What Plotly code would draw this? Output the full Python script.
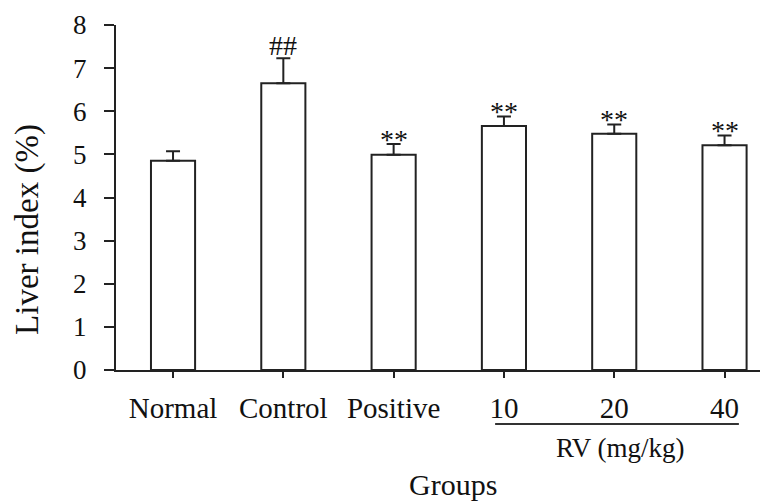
import plotly.graph_objects as go

groups = ["Normal", "Control", "Positive", "10", "20", "40"]
liver_index = [4.85, 6.65, 4.99, 5.66, 5.48, 5.21]
sem = [0.22, 0.58, 0.25, 0.22, 0.21, 0.23]
marks = ["", "##", "**", "**", "**", "**"]
y_ticks = [0, 1, 2, 3, 4, 5, 6, 7, 8]

FONT = "Liberation Serif, Times New Roman, serif"
INK = "#111111"

fig = go.Figure()
fig.add_trace(go.Bar(
    x=groups, y=liver_index,
    width=0.4,
    marker=dict(color="white", line=dict(color="#222222", width=2)),
    error_y=dict(type="data", array=sem, arrayminus=[0]*len(sem), symmetric=False,
                 color="#222222", thickness=2, width=7),
    showlegend=False,
))

for i, (v, e, m) in enumerate(zip(liver_index, sem, marks)):
    if not m:
        continue
    shift = 13 if m == "##" else 5
    fig.add_annotation(x=i, y=v + e, text=m, showarrow=False, yanchor="middle",
                       yshift=shift, font=dict(family=FONT, size=28, color=INK))

# RV dose group underline and label
fig.add_shape(type="line", xref="x", yref="paper", x0=2.92, x1=5.13, y0=-0.1565, y1=-0.1565,
              line=dict(color="#333333", width=2))
fig.add_annotation(xref="x", yref="paper", x=4.06, y=-0.226, text="RV (mg/kg)", showarrow=False,
                   xanchor="center", yanchor="middle", font=dict(family=FONT, size=27, color=INK))
fig.add_annotation(xref="paper", yref="paper", x=0.517, y=-0.386, text="Groups", showarrow=False,
                   xanchor="center", yanchor="bottom", font=dict(family=FONT, size=30, color=INK))
fig.add_annotation(xref="paper", yref="paper", x=-0.135, y=0.409, text="Liver index (%)",
                   textangle=-90, showarrow=False, xanchor="center", yanchor="middle",
                   font=dict(family=FONT, size=33, color=INK))

fig.update_layout(
    width=760, height=496,
    margin=dict(l=108, r=0, t=17, b=134),
    paper_bgcolor="white", plot_bgcolor="white",
    font=dict(family=FONT, color=INK),
    xaxis=dict(type="category", range=[-0.517, 5.394], showline=True, linecolor="#222222",
               linewidth=2, ticks="outside", ticklen=6, tickwidth=2, tickcolor="#222222",
               showgrid=False, zeroline=False, tickfont=dict(family=FONT, size=29, color=INK),
               ticklabelstandoff=5, fixedrange=True),
    yaxis=dict(range=[0, 8], tickvals=y_ticks, showline=True, linecolor="#222222", linewidth=2,
               ticks="outside", ticklen=10, tickwidth=2, tickcolor="#222222", showgrid=False,
               zeroline=False, tickfont=dict(family=FONT, size=27, color=INK),
               ticklabelstandoff=12, fixedrange=True),
)

fig.write_html("out.html")
